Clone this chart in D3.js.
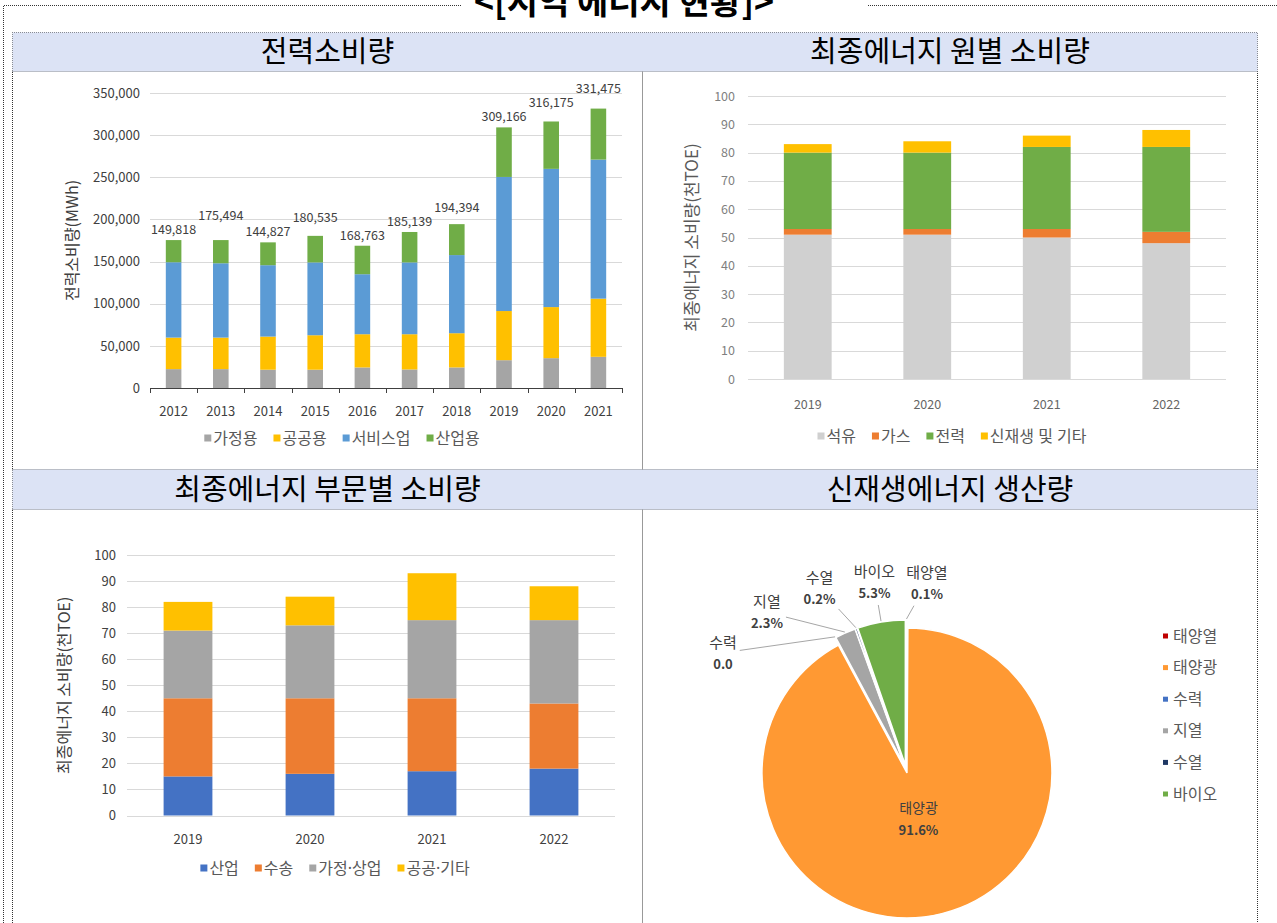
<!DOCTYPE html>
<html>
<head>
<meta charset="utf-8">
<script src="https://cdn.jsdelivr.net/npm/d3@7"></script>
<style>
  body { margin: 0; background: #fff; }
  svg text { font-family: "Noto Sans CJK KR", "Noto Sans", sans-serif; }
</style>
</head>
<body>
<svg id="chart" width="1277" height="923"></svg>
<script>
// --- 전력소비량 (MWh)
const elecYears = ['2012', '2013', '2014', '2015', '2016', '2017', '2018', '2019', '2020', '2021'];
const elecSeries = ['가정용', '공공용', '서비스업', '산업용'];
const elecHome = [22400, 22400, 21700, 21700, 24400, 22000, 24400, 33000, 35400, 37000];
const elecPublic = [37400, 37400, 39300, 40900, 39400, 41800, 40600, 58300, 60600, 69000];
const elecService = [89400, 88200, 84700, 86400, 71200, 85200, 92700, 159100, 164000, 165000];
const elecIndustry = [26300, 27500, 27100, 31500, 33800, 36100, 36700, 58800, 56200, 60500];
const elecTotalLabels = ['149,818', '175,494', '144,827', '180,535', '168,763', '185,139', '194,394', '309,166', '316,175', '331,475'];
const elecTicks = [0, 50000, 100000, 150000, 200000, 250000, 300000, 350000];

// --- 최종에너지 원별 소비량 (천TOE)
const srcYears = ['2019', '2020', '2021', '2022'];
const srcSeries = ['석유', '가스', '전력', '신재생 및 기타'];
const srcOil = [51, 51, 50, 48];
const srcGas = [2, 2, 3, 4];
const srcPower = [27, 27, 29, 30];
const srcRenew = [3, 4, 4, 6];

// --- 최종에너지 부문별 소비량 (천TOE)
const secYears = ['2019', '2020', '2021', '2022'];
const secSeries = ['산업', '수송', '가정·상업', '공공·기타'];
const secIndustry = [15, 16, 17, 18];
const secTransport = [30, 29, 28, 25];
const secHomeCom = [26, 28, 30, 32];
const secPublic = [11, 11, 18, 13];
const toeTicks = [0, 10, 20, 30, 40, 50, 60, 70, 80, 90, 100];

// --- 신재생에너지 생산량
const pieNames = ['태양열', '태양광', '수력', '지열', '수열', '바이오'];
const pieValues = [0.1, 91.6, 0.0, 2.3, 0.2, 5.3];
const pieLabels = ['0.1%', '91.6%', '0.0', '2.3%', '0.2%', '5.3%'];
const pieColors = ['#C00000', '#FF9933', '#4472C4', '#A5A5A5', '#1F3864', '#70AD47'];

const svg = d3.select('#chart');

// ---------- frame ----------
const frame = svg.append('g')
  .attr('fill', 'none')
  .attr('stroke', '#333')
  .attr('stroke-dasharray', '1,1');

const tableL = 12.5, tableR = 1257.5, midX = 642.5;
const rows = [32.5, 71.5, 469.5, 509.5];

svg.append('rect').attr('x', tableL).attr('y', rows[0]).attr('width', tableR - tableL).attr('height', rows[1] - rows[0]).attr('fill', '#DCE3F5');
svg.append('rect').attr('x', tableL).attr('y', rows[2]).attr('width', tableR - tableL).attr('height', rows[3] - rows[2]).attr('fill', '#DCE3F5');

frame.append('path').attr('d', `M3.5,923V5.5H462 M868,5.5H1277`);
frame.append('path').attr('d', `M${tableL},923V${rows[0]}H${tableR}V923 M${midX},${rows[0]}V923`);
rows.slice(1).forEach(r => frame.append('path').attr('d', `M${tableL},${r}H${tableR}`));

svg.append('text')
  .attr('x', 624).attr('y', 14)
  .attr('text-anchor', 'middle')
  .style('font-size', '34px').style('font-weight', 700)
  .text('<[지역 에너지 현황]>');

const headers = [
  { t: '전력소비량', x: (tableL + midX) / 2, y: (rows[0] + rows[1]) / 2 },
  { t: '최종에너지 원별 소비량', x: (midX + tableR) / 2, y: (rows[0] + rows[1]) / 2 },
  { t: '최종에너지 부문별 소비량', x: (tableL + midX) / 2, y: (rows[2] + rows[3]) / 2 },
  { t: '신재생에너지 생산량', x: (midX + tableR) / 2, y: (rows[2] + rows[3]) / 2 }
];
svg.selectAll('text.head').data(headers).join('text')
  .attr('class', 'head')
  .attr('x', d => d.x).attr('y', d => d.y)
  .attr('dy', '0.36em')
  .attr('text-anchor', 'middle')
  .style('font-size', '29px')
  .attr('fill', '#000')
  .text(d => d.t);

// ---------- helpers ----------
function stackedBars(opt) {
  const g = svg.append('g');
  const data = opt.categories.map((c, i) => {
    const r = { cat: c };
    opt.keys.forEach((k, j) => { r[k] = opt.values[j][i]; });
    return r;
  });
  const series = d3.stack().keys(opt.keys)(data);

  const x = d3.scaleBand()
    .domain(opt.categories)
    .range(opt.xRange)
    .paddingInner(opt.pad)
    .paddingOuter(opt.pad / 2);
  const y = d3.scaleLinear().domain([0, opt.ticks[opt.ticks.length - 1]]).range(opt.yRange);

  g.append('g').selectAll('line')
    .data(opt.axisLine ? opt.ticks.slice(1) : opt.ticks)
    .join('line')
    .attr('x1', opt.xRange[0]).attr('x2', opt.xRange[1])
    .attr('y1', d => Math.round(y(d)) + 0.5).attr('y2', d => Math.round(y(d)) + 0.5)
    .attr('stroke', '#D9D9D9');

  const yAxis = g.append('g')
    .attr('transform', `translate(${opt.xRange[0]},0)`)
    .call(d3.axisLeft(y).tickValues(opt.ticks).tickSize(0).tickPadding(opt.tickPad).tickFormat(opt.fmt));
  yAxis.select('.domain').remove();
  yAxis.selectAll('text')
    .attr('fill', opt.tickColor)
    .style('font-size', opt.fontSize + 'px')
    .style('font-family', '"Noto Sans CJK KR", sans-serif');

  g.append('g').selectAll('g')
    .data(series)
    .join('g')
    .attr('fill', (d, i) => opt.colors[i])
    .selectAll('rect')
    .data(d => d)
    .join('rect')
    .attr('x', d => x(d.data.cat))
    .attr('width', x.bandwidth())
    .attr('y', d => y(d[1]))
    .attr('height', d => y(d[0]) - y(d[1]));

  const base = opt.yRange[0];
  if (opt.axisLine) {
    const step = x.step();
    const bounds = d3.range(opt.categories.length + 1).map(i => opt.xRange[0] + i * step);
    g.append('line')
      .attr('x1', opt.xRange[0]).attr('x2', opt.xRange[1])
      .attr('y1', Math.round(base) + 0.5).attr('y2', Math.round(base) + 0.5)
      .attr('stroke', '#404040');
    g.append('g').selectAll('line').data(bounds).join('line')
      .attr('x1', d => Math.round(d) + 0.5).attr('x2', d => Math.round(d) + 0.5)
      .attr('y1', base).attr('y2', base + 5)
      .attr('stroke', '#404040');
  }

  const xAxis = g.append('g')
    .attr('transform', `translate(0,${base})`)
    .call(d3.axisBottom(x).tickSize(0).tickPadding(opt.xPad));
  xAxis.select('.domain').remove();
  xAxis.selectAll('text')
    .attr('fill', opt.xColor)
    .style('font-size', opt.fontSize + 'px')
    .style('font-family', '"Noto Sans CJK KR", sans-serif');

  g.append('text')
    .attr('transform', `translate(${opt.titleX},${(opt.yRange[0] + opt.yRange[1]) / 2}) rotate(-90)`)
    .attr('text-anchor', 'middle')
    .attr('dy', '0.35em')
    .attr('fill', opt.titleColor)
    .style('font-size', opt.titleSize + 'px')
    .text(opt.title);

  legend(g, opt.keys, opt.colors, opt.legendX, opt.legendY, opt.legendSize);
  return { g, x, y, series };
}

function legend(parent, names, colors, cx, cy, fontSize) {
  const grp = parent.append('g');
  const mark = 7, gap = 16;
  let pos = 0;
  names.forEach((name, i) => {
    const item = grp.append('g').attr('transform', `translate(${pos},0)`);
    item.append('rect')
      .attr('x', 0).attr('y', -mark / 2)
      .attr('width', mark).attr('height', mark)
      .attr('fill', colors[i]);
    // latin font first so the middle dot stays narrow, hangul falls back to CJK
    const t = item.append('text')
      .attr('x', mark + 2).attr('dy', '0.35em')
      .attr('fill', '#595959')
      .style('font-size', fontSize + 'px')
      .style('font-family', '"Noto Sans", "Noto Sans CJK KR", sans-serif')
      .text(name);
    pos += mark + 2 + t.node().getComputedTextLength() + gap;
  });
  const total = pos - gap;
  grp.attr('transform', `translate(${cx - total / 2},${cy})`);
}

// ---------- chart 1: 전력소비량 ----------
const c1 = stackedBars({
  categories: elecYears,
  keys: elecSeries,
  values: [elecHome, elecPublic, elecService, elecIndustry],
  colors: ['#A5A5A5', '#FFC000', '#5B9BD5', '#70AD47'],
  ticks: elecTicks,
  fmt: d3.format(','),
  xRange: [150, 622],
  yRange: [388, 93],
  pad: 0.67,
  tickPad: 10,
  xPad: 19,
  fontSize: 13,
  tickColor: '#404040',
  xColor: '#404040',
  axisLine: true,
  title: '전력소비량(MWh)',
  titleX: 72,
  titleSize: 16,
  titleColor: '#404040',
  legendX: 342,
  legendY: 438,
  legendSize: 16
});

// total labels above each column, nudged upward when they would collide
const elecTotals = elecYears.map((_, i) => elecHome[i] + elecPublic[i] + elecService[i] + elecIndustry[i]);
let prevBox = null;
elecYears.forEach((yr, i) => {
  const cx = c1.x(yr) + c1.x.bandwidth() / 2;
  let base = c1.y(elecTotals[i]) - 6;
  const t = c1.g.append('text')
    .attr('x', cx)
    .attr('text-anchor', 'middle')
    .attr('fill', '#404040')
    .style('font-size', '12.5px')
    .text(elecTotalLabels[i]);
  const w = t.node().getComputedTextLength();
  const h = 13;
  if (prevBox && cx - w / 2 < prevBox.right + 4 && base > prevBox.top && base - h < prevBox.base) {
    base = prevBox.top - 1;
  }
  t.attr('y', base);
  prevBox = { right: cx + w / 2, top: base - h, base };
});

// ---------- chart 2: 원별 ----------
stackedBars({
  categories: srcYears,
  keys: srcSeries,
  values: [srcOil, srcGas, srcPower, srcRenew],
  colors: ['#D0D0D0', '#ED7D31', '#70AD47', '#FFC000'],
  ticks: toeTicks,
  fmt: d3.format('d'),
  xRange: [748, 1226],
  yRange: [379, 96],
  pad: 0.6,
  tickPad: 13,
  xPad: 21,
  fontSize: 12.5,
  tickColor: '#7F7F7F',
  xColor: '#666666',
  axisLine: false,
  title: '최종에너지 소비량(천TOE)',
  titleX: 692,
  titleSize: 17,
  titleColor: '#595959',
  legendX: 952,
  legendY: 436,
  legendSize: 16
});

// ---------- chart 3: 부문별 ----------
stackedBars({
  categories: secYears,
  keys: secSeries,
  values: [secIndustry, secTransport, secHomeCom, secPublic],
  colors: ['#4472C4', '#ED7D31', '#A5A5A5', '#FFC000'],
  ticks: toeTicks,
  fmt: d3.format('d'),
  xRange: [127, 615],
  yRange: [815.5, 555],
  pad: 0.6,
  tickPad: 11,
  xPad: 19.5,
  fontSize: 13,
  tickColor: '#404040',
  xColor: '#404040',
  axisLine: false,
  title: '최종에너지 소비량(천TOE)',
  titleX: 64,
  titleSize: 16,
  titleColor: '#404040',
  legendX: 335,
  legendY: 868,
  legendSize: 16
});

// ---------- chart 4: 신재생 pie ----------
const pieCx = 906, pieCy = 769, pieR = 145, explode = 4;
const pieG = svg.append('g').attr('transform', `translate(${pieCx},${pieCy})`);
const arcs = d3.pie().sort(null).value(d => d)(pieValues);
const arc = d3.arc().innerRadius(0).outerRadius(pieR);
const dir = a => [Math.sin(a), -Math.cos(a)];
const mid = d => (d.startAngle + d.endAngle) / 2;

pieG.selectAll('path')
  .data(arcs.filter(d => d.value > 0))
  .join('path')
  .attr('d', arc)
  .attr('transform', d => {
    const [ux, uy] = dir(mid(d));
    return `translate(${ux * explode},${uy * explode})`;
  })
  .attr('fill', d => pieColors[d.index])
  .attr('stroke', '#fff')
  .attr('stroke-width', 1.5);

// label for the big slice, inside
const big = arcs[d3.maxIndex(pieValues)];
{
  const [ux, uy] = dir(mid(big));
  const lx = ux * (pieR * 0.33 + explode), ly = uy * (pieR * 0.33 + explode);
  pieG.append('text').attr('x', lx).attr('y', ly - 6)
    .attr('text-anchor', 'middle').attr('fill', '#404040')
    .style('font-size', '14px').text(pieNames[big.index]);
  pieG.append('text').attr('x', lx).attr('y', ly + 16)
    .attr('text-anchor', 'middle').attr('fill', '#404040')
    .style('font-size', '13px').style('font-weight', 600).text(pieLabels[big.index]);
}

// outside labels: anchor the largest small slice, spread the rest by a minimum angle
const outside = arcs.filter(d => d.index !== big.index).map(d => {
  let a = mid(d);
  if (a > Math.PI) a -= 2 * Math.PI;
  return { d, a, la: a };
}).sort((p, q) => q.a - p.a);
const minGap = 16 * Math.PI / 180;
const anchor = d3.maxIndex(outside, o => o.d.value);
for (let i = anchor - 1; i >= 0; i--) outside[i].la = Math.max(outside[i].a, outside[i + 1].la + minGap);
for (let i = anchor + 1; i < outside.length; i++) outside[i].la = Math.min(outside[i].a, outside[i - 1].la - minGap);

outside.forEach(o => {
  const [ux, uy] = dir(o.la);
  const labelR = pieR + 38 + 40 * Math.abs(Math.sin(o.la));
  const px = ux * labelR, py = uy * labelR;
  const t1 = pieG.append('text').attr('x', px).attr('y', py - 5)
    .attr('text-anchor', 'middle').attr('fill', '#404040')
    .style('font-size', '15px').text(pieNames[o.d.index]);
  const t2 = pieG.append('text').attr('x', px).attr('y', py + 16)
    .attr('text-anchor', 'middle').attr('fill', '#404040')
    .style('font-size', '13px').style('font-weight', 600).text(pieLabels[o.d.index]);
  const hw = Math.max(t1.node().getComputedTextLength(), t2.node().getComputedTextLength()) / 2 + 3;
  const hh = 23;
  const [ex, ey] = dir(mid(o.d)).map(v => v * (pieR + explode + 1));
  const dx = ex - px, dy = ey - py;
  const t = Math.min(dx ? hw / Math.abs(dx) : Infinity, dy ? hh / Math.abs(dy) : Infinity);
  pieG.append('line')
    .attr('x1', px + dx * t).attr('y1', py + dy * t)
    .attr('x2', ex).attr('y2', ey)
    .attr('stroke', '#A6A6A6').attr('stroke-width', 1);
});

// pie legend
const legY = d3.scalePoint().domain(pieNames).range([636, 794]);
const pieLeg = svg.append('g');
pieLeg.selectAll('rect').data(pieNames).join('rect')
  .attr('x', 1163).attr('y', d => legY(d) - 2.5)
  .attr('width', 5).attr('height', 5)
  .attr('fill', (d, i) => pieColors[i]);
pieLeg.selectAll('text').data(pieNames).join('text')
  .attr('x', 1173).attr('y', d => legY(d))
  .attr('dy', '0.35em')
  .attr('fill', '#595959')
  .style('font-size', '16px')
  .text(d => d);
</script>
</body>
</html>
